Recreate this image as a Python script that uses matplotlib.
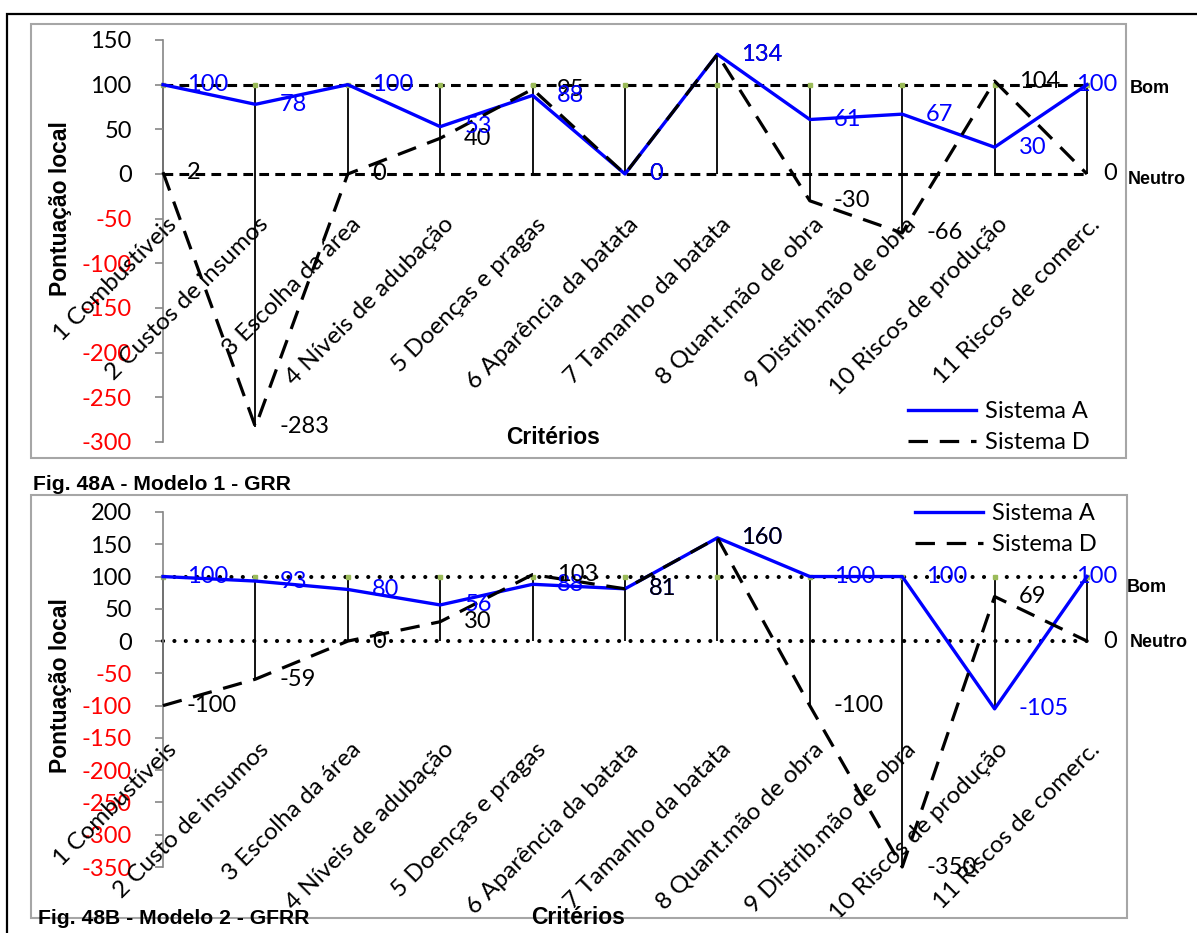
import matplotlib
matplotlib.use("Agg")
import matplotlib.pyplot as plt
from matplotlib.patches import Rectangle
import numpy as np

# ---------------------------------------------------------------- data
criterios_1 = ["1 Combustíveis", "2 Custos de insumos", "3 Escolha da área",
               "4 Níveis de adubação", "5 Doenças e pragas", "6 Aparência da batata",
               "7 Tamanho da batata", "8 Quant.mão de obra", "9 Distrib.mão de obra",
               "10 Riscos de produção", "11 Riscos de comerc."]
criterios_2 = ["1 Combustíveis", "2 Custo de insumos", "3 Escolha da área",
               "4 Níveis de adubação", "5 Doenças e pragas", "6 Aparência da batata",
               "7 Tamanho da batata", "8 Quant.mão de obra", "9 Distrib.mão de obra",
               "10 Riscos de produção", "11 Riscos de comerc."]

sistema_a_1 = [100, 78, 100, 53, 88, 0, 134, 61, 67, 30, 100]
sistema_d_1 = [2, -283, 0, 40, 95, 0, 134, -30, -66, 104, 0]
sistema_a_2 = [100, 93, 80, 56, 88, 81, 160, 100, 100, -105, 100]
sistema_d_2 = [-100, -59, 0, 30, 103, 81, 160, -100, -350, 69, 0]

bom = 100
neutro = 0

yticks_1 = [150, 100, 50, 0, -50, -100, -150, -200, -250, -300]
yticks_2 = [200, 150, 100, 50, 0, -50, -100, -150, -200, -250, -300, -350]

titulo_1 = "Fig. 48A - Modelo 1 - GRR"
titulo_2 = "Fig. 48B - Modelo 2 - GFRR"
nome_a = "Sistema A"
nome_d = "Sistema D"
titulo_x = "Critérios"
titulo_y = "Pontuação local"

# ---------------------------------------------------------------- style
W, H, DPI = 1197, 933, 100
plt.rcParams["lines.scale_dashes"] = False
plt.rcParams["font.family"] = ["Lato", "DejaVu Sans"]
FS = 17          # body text (ticks, labels, legend)
BOLD = "Liberation Sans"
BLUE = "#0000FF"
GRAY = "#A6A6A6"
AXGRAY = "#868686"

fig = plt.figure(figsize=(W / DPI, H / DPI), dpi=DPI)
fig.patch.set_facecolor("white")


def fx(px):
    return px / W


def fy(py):
    return 1 - py / H


def frame(x0, y0, x1, y1, color, lw):
    fig.patches.append(Rectangle((fx(x0), fy(y1)), fx(x1) - fx(x0), fy(y0) - fy(y1),
                                 transform=fig.transFigure, fill=False,
                                 ec=color, lw=lw, zorder=0.5))


def panel(top_px, bottom_px, ylim, yticks, cats, a, d, ref_style, lab_dy,
          legend_xy, d_labels_on_top, titles):
    ax = fig.add_axes([fx(163), fy(bottom_px), fx(1087) - fx(163),
                       fy(top_px) - fy(bottom_px)])
    ax.patch.set_visible(False)
    n = len(cats)
    x = np.arange(n)
    ax.set_xlim(0, n - 1)
    ax.set_ylim(*ylim)
    for s in ("top", "right", "bottom"):
        ax.spines[s].set_visible(False)
    ax.spines["left"].set_color(AXGRAY)
    ax.spines["left"].set_linewidth(1.2)
    ax.set_xticks([])
    ax.set_yticks(yticks)
    ax.set_yticklabels([str(t) for t in yticks])
    ax.tick_params(axis="y", length=5.5, width=1.2, color=AXGRAY, pad=17,
                   labelsize=FS)
    for lab, t in zip(ax.get_yticklabels(), yticks):
        lab.set_color("red" if t < 0 else "black")

    a = np.asarray(a)
    d = np.asarray(d)
    ref_bom = np.full(n, bom)
    ref_neu = np.full(n, neutro)

    # reference levels "Bom" and "Neutro"
    if ref_style == "dashed":
        kw = dict(color="black", lw=2.2, dashes=(7, 4.5))
    else:
        kw = dict(color="black", lw=3.0, dashes=(0.01, 8.2),
                  dash_capstyle="round")
    ax.plot(x, ref_neu, clip_on=False, zorder=2, **kw)
    ax.plot(x, ref_bom, clip_on=False, zorder=2, marker="s", ms=2.6,
            mfc="#9BBB59", mec="#9BBB59", **kw)

    # high-low lines across all series
    hi = np.max([a, d, ref_bom, ref_neu], axis=0)
    lo = np.min([a, d, ref_bom, ref_neu], axis=0)
    ax.vlines(x, lo, hi, color="black", lw=1.3, zorder=1, clip_on=False)

    la, = ax.plot(x, a, color=BLUE, lw=2.4, zorder=3, clip_on=False, label=nome_a)
    ld, = ax.plot(x, d, color="black", lw=2.3, dashes=(14, 8.5), zorder=4,
                  clip_on=False, label=nome_d)

    # value labels
    def put(vals, color, z):
        for i, v in enumerate(vals):
            if i == n - 1:
                ax.annotate(str(v), xy=(i, v), xytext=(30, 0),
                            textcoords="offset pixels", ha="right", va="center",
                            color=color, fontsize=FS, zorder=z, annotation_clip=False)
            else:
                ax.annotate(str(v), xy=(i, v), xytext=(24, 0),
                            textcoords="offset pixels", ha="left", va="center",
                            color=color, fontsize=FS, zorder=z, annotation_clip=False)

    if d_labels_on_top:
        put(a, BLUE, 5)
        put(d, "black", 6)
    else:
        put(d, "black", 5)
        put(a, BLUE, 6)

    # category labels
    for i, c in enumerate(cats):
        ax.annotate(c, xy=(i, 0), xytext=(10, -lab_dy), textcoords="offset pixels",
                    ha="right", va="center", rotation=45, rotation_mode="anchor",
                    fontsize=FS + 0.5, annotation_clip=False, zorder=7)

    # level names at the right end
    ax.annotate("Bom", xy=(n - 1, bom), xytext=titles["bom_off"],
                textcoords="offset pixels", ha="left", va="center",
                fontsize=13, fontweight="bold", family=BOLD, annotation_clip=False)
    ax.annotate("Neutro", xy=(n - 1, neutro), xytext=titles["neu_off"],
                textcoords="offset pixels", ha="left", va="center",
                fontsize=13, fontweight="bold", family=BOLD, annotation_clip=False)

    lx, ly = legend_xy
    ax.legend(handles=[la, ld], loc="upper left", bbox_to_anchor=(fx(lx), fy(ly)),
              bbox_transform=fig.transFigure, frameon=False, fontsize=FS,
              borderpad=0, borderaxespad=0, handlelength=2.9, handletextpad=0.35,
              labelspacing=0.42)
    return ax


# outer frame and chart boxes
frame(6.5, 13.5, 1215, 950, "black", 1.6)
frame(31, 24, 1126, 458, GRAY, 1.5)
frame(31, 495, 1127, 918, GRAY, 1.5)

panel(40, 442, (-300, 150), yticks_1, criterios_1, sistema_a_1, sistema_d_1,
      "dashed", 47, (908, 401), False,
      dict(bom_off=(43, -4), neu_off=(41, -5)))
panel(512, 867, (-350, 200), yticks_2, criterios_2, sistema_a_2, sistema_d_2,
      "dotted", 105, (915, 503), True,
      dict(bom_off=(40, -11), neu_off=(43, -1)))

# titles
fig.text(fx(60), fy(209), titulo_y, rotation=90, ha="center", va="center",
         fontsize=16.5, fontweight="bold", family=BOLD)
fig.text(fx(60), fy(686), titulo_y, rotation=90, ha="center", va="center",
         fontsize=16.5, fontweight="bold", family=BOLD)
fig.text(fx(553), fy(438), titulo_x, ha="center", va="center",
         fontsize=16.5, fontweight="bold", family=BOLD)
fig.text(fx(578), fy(917), titulo_x, ha="center", va="center",
         fontsize=16.5, fontweight="bold", family=BOLD)
fig.text(fx(33), fy(485), titulo_1, ha="left", va="center",
         fontsize=15.2, fontweight="bold", family=BOLD)
fig.text(fx(38), fy(918), titulo_2, ha="left", va="center",
         fontsize=15.2, fontweight="bold", family=BOLD)

fig.savefig("out.png", dpi=DPI, facecolor="white")
